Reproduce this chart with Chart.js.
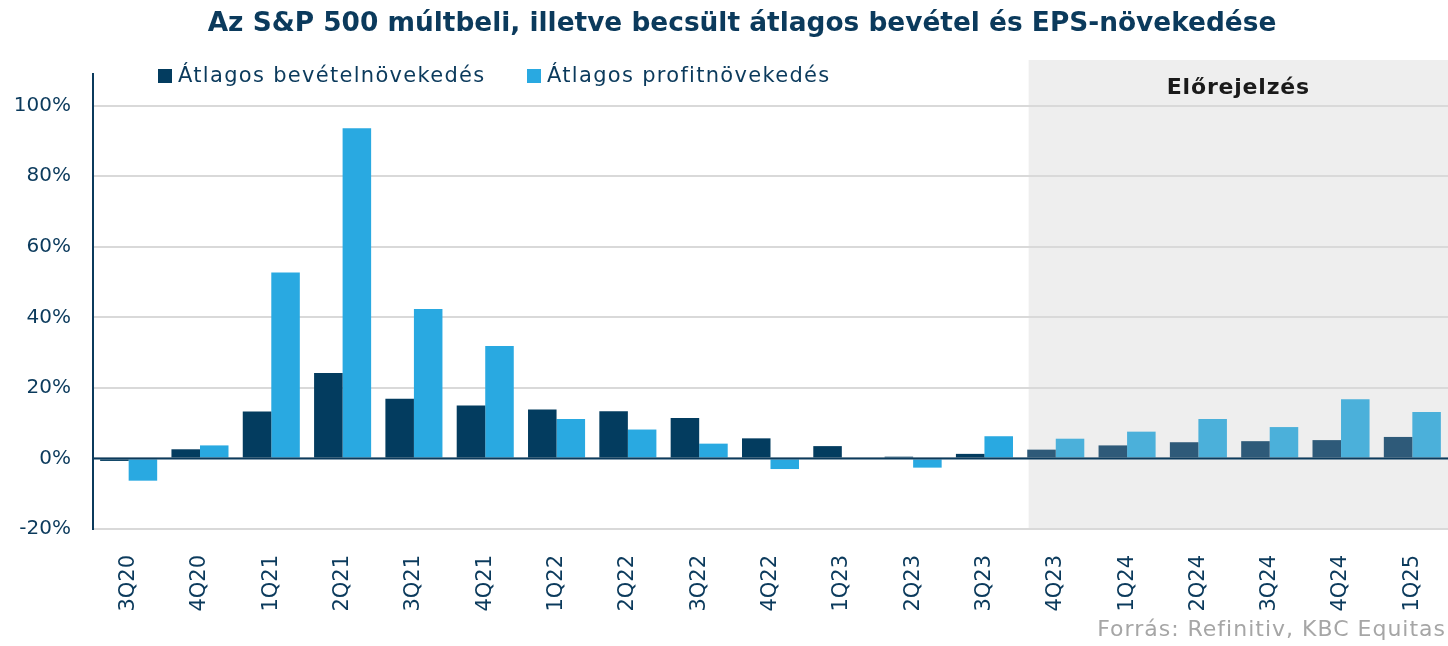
<!DOCTYPE html>
<html>
<head>
<meta charset="utf-8">
<script src="https://cdn.jsdelivr.net/npm/chart.js@4"></script>
<style>
  html, body { margin: 0; padding: 0; background: #fff; }
  #wrap { width: 1448px; height: 646px; position: relative; }
</style>
</head>
<body>
<div id="wrap"><canvas id="myChart" width="1448" height="646"></canvas></div>
<script>
const labels = ["3Q20", "4Q20", "1Q21", "2Q21", "3Q21", "4Q21", "1Q22", "2Q22", "3Q22", "4Q22",
    "1Q23", "2Q23", "3Q23", "4Q23", "1Q24", "2Q24", "3Q24", "4Q24", "1Q25"];
const revenueGrowth = [-0.7, 2.6, 13.3, 24.2, 16.9, 15.0, 13.9, 13.4, 11.5, 5.7,
    3.5, 0.5, 1.3, 2.5, 3.7, 4.6, 4.9, 5.2, 6.1];
const profitGrowth = [-6.3, 3.7, 52.7, 93.6, 42.4, 31.9, 11.2, 8.2, 4.2, -3.0,
    0.0, -2.6, 6.3, 5.6, 7.6, 11.2, 8.9, 16.8, 13.2];
const yTicks = [-20, 0, 20, 40, 60, 80, 100];
const forecastStart = 13;

const titleText = "Az S&P 500 múltbeli, illetve becsült átlagos bevétel és EPS-növekedése";
const seriesNames = ["Átlagos bevételnövekedés", "Átlagos profitnövekedés"];
const FONT = "DejaVu Sans";
const NAVY = "#0b3a5c";

const darkColors = labels.map((l, i) => i >= forecastStart ? "#2e5a79" : "#033c5f");
const lightColors = labels.map((l, i) => i >= forecastStart ? "#4bb0da" : "#29a9e1");

const extras = {
    id: "extras",
    beforeDraw(chart) {
        const ctx = chart.ctx;
        const area = chart.chartArea;
        const x = chart.scales.x;
        const step = x.getPixelForValue(1) - x.getPixelForValue(0);
        const left = x.getPixelForValue(forecastStart) - step * 0.38;
        ctx.save();
        ctx.fillStyle = "#eeeeee";
        ctx.fillRect(left, 60, area.right - left, area.bottom - 60);
        ctx.fillStyle = "#1a1a1a";
        ctx.font = "bold 22px " + FONT;
        ctx.letterSpacing = "0.8px";
        ctx.textAlign = "center";
        ctx.textBaseline = "middle";
        ctx.fillText("Előrejelzés", (left + area.right) / 2, 88);
        ctx.restore();
    },
    afterDatasetsDraw(chart) {
        const ctx = chart.ctx;
        const area = chart.chartArea;
        const y0 = chart.scales.y.getPixelForValue(0);
        ctx.save();
        ctx.strokeStyle = NAVY;
        ctx.lineWidth = 2;
        ctx.beginPath();
        ctx.moveTo(area.left, y0);
        ctx.lineTo(area.right, y0);
        ctx.stroke();
        ctx.restore();
    },
    afterDraw(chart) {
        const ctx = chart.ctx;
        ctx.save();
        // title
        ctx.font = "bold 26.4px " + FONT;
        ctx.fillStyle = NAVY;
        ctx.textAlign = "center";
        ctx.textBaseline = "alphabetic";
        ctx.fillText(titleText, 742, 31);
        // legend
        ctx.font = "21px " + FONT;
        ctx.letterSpacing = "1.3px";
        ctx.textBaseline = "middle";
        ctx.textAlign = "left";
        ctx.fillStyle = "#033c5f";
        ctx.fillRect(158, 69, 14, 14);
        ctx.fillStyle = NAVY;
        ctx.fillText(seriesNames[0], 178, 77);
        ctx.fillStyle = "#29a9e1";
        ctx.fillRect(527, 69, 14, 14);
        ctx.fillStyle = NAVY;
        ctx.fillText(seriesNames[1], 547, 77);
        // source
        ctx.font = "22px " + FONT;
        ctx.letterSpacing = "1px";
        ctx.fillStyle = "#a6a6a6";
        ctx.textAlign = "right";
        ctx.fillText("Forrás: Refinitiv, KBC Equitas", 1446, 630);
        ctx.restore();
    }
};

new Chart(document.getElementById("myChart"), {
    type: "bar",
    data: {
        labels: labels,
        datasets: [
            { label: seriesNames[0], data: revenueGrowth, backgroundColor: darkColors },
            { label: seriesNames[1], data: profitGrowth, backgroundColor: lightColors }
        ]
    },
    options: {
        responsive: false,
        animation: false,
        datasets: { bar: { categoryPercentage: 0.8, barPercentage: 1.0 } },
        layout: { padding: { left: 0, right: 0, top: 74, bottom: 0 } },
        plugins: {
            legend: { display: false },
            tooltip: { enabled: false },
            title: { display: false }
        },
        scales: {
            x: {
                grid: { display: false },
                border: { display: false },
                ticks: {
                    color: NAVY,
                    font: { family: FONT, size: 21 },
                    minRotation: 90,
                    maxRotation: 90,
                    padding: 18,
                    autoSkip: false
                },
                afterFit(scale) {
                    scale.height = 117;
                    scale.paddingLeft = 0;
                    scale.paddingRight = 0;
                }
            },
            y: {
                min: -20,
                max: 109,
                afterBuildTicks(scale) {
                    scale.ticks = yTicks.map(v => ({ value: v }));
                },
                afterFit(scale) {
                    scale.width = 93;
                    scale.paddingTop = 0;
                    scale.paddingBottom = 0;
                },
                grid: { color: "#d9d9d9", lineWidth: 2, drawTicks: false },
                border: { display: true, color: NAVY, width: 2 },
                ticks: {
                    color: NAVY,
                    font: { family: FONT, size: 20 },
                    padding: 22,
                    callback: v => v + "%"
                }
            }
        }
    },
    plugins: [extras]
});
</script>
</body>
</html>
